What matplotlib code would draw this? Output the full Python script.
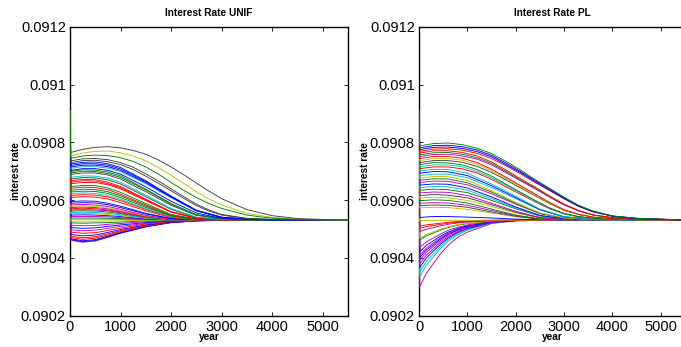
"""
plot.py
-------
Interest rate paths towards the steady state, UNIF vs PL (MATLAB-style figure).
"""
import matplotlib
matplotlib.use("Agg")
import matplotlib.pyplot as plt
from matplotlib.ticker import MultipleLocator, FuncFormatter

# every path starts at the same rate in year 0, then settles to the steady rate
START_RATE = 0.09091
STEADY_RATE = 0.090531

# --- UNIF panel: deviations from the steady rate, in units of 1e-6 ---
unif_top_years = [15, 250, 500, 750, 1000, 1250, 1500, 1750, 2000, 2250, 2500, 2750,
                  3000, 3500, 4000, 4500, 5000, 5500]
unif_top = [
    [214, 222, 225, 223, 216, 203, 184, 159, 130, 103, 78, 57, 40, 17, 6, 2, 1, 0],
    [234, 245, 252, 254, 250, 241, 228, 208, 184, 157, 128, 100, 74, 36, 15, 5, 2, 0],
    [222, 232, 238, 239, 233, 222, 205, 182, 155, 127, 98, 73, 52, 23, 9, 3, 1, 0],
    [205, 212, 213, 209, 199, 183, 160, 135, 108, 81, 55, 35, 19, 6, 2, 1, 0, 0],
    [199, 206, 207, 202, 192, 175, 152, 127, 101, 75, 50, 31, 17, 5, 2, 0, 0, 0],
]

unif_years = [15, 250, 500, 750, 1000, 1500, 2000, 2500, 3000, 3500, 4000, 4500, 5000, 5500]
unif_blue = [
    [194, 200, 201, 195, 182, 136, 83, 34, 10, 3, 1, 0, 0, 0],
    [189, 195, 195, 190, 177, 133, 81, 33, 9, 3, 1, 0, 0, 0],
    [184, 190, 190, 185, 172, 129, 79, 32, 9, 3, 1, 0, 0, 0],
    [179, 185, 185, 180, 168, 126, 77, 31, 9, 3, 1, 0, 0, 0],
    [172, 178, 178, 172, 159, 115, 65, 24, 6, 2, 0, 0, 0, 0],
]
unif_middle = [
    [168, 174, 173, 166, 153, 107, 57, 18, 5, 1, 0, 0, 0, 0],
    [163, 169, 168, 161, 148, 104, 55, 18, 5, 1, 0, 0, 0, 0],
    [158, 163, 163, 156, 142, 98, 51, 16, 4, 1, 0, 0, 0, 0],
    [148, 153, 152, 145, 131, 86, 40, 10, 2, 0, 0, 0, 0, 0],
    [142, 147, 146, 139, 125, 81, 37, 9, 2, 0, 0, 0, 0, 0],
    [136, 141, 140, 131, 116, 72, 29, 7, 1, 0, 0, 0, 0, 0],
    [131, 136, 135, 126, 112, 70, 28, 7, 1, 0, 0, 0, 0, 0],
    [126, 130, 130, 122, 108, 67, 27, 6, 1, 0, 0, 0, 0, 0],
    [116, 120, 119, 111, 96, 57, 19, 4, 1, 0, 0, 0, 0, 0],
    [110, 114, 112, 105, 89, 52, 17, 3, 1, 0, 0, 0, 0, 0],
    [103, 107, 105, 98, 84, 48, 15, 3, 1, 0, 0, 0, 0, 0],
    [97, 100, 99, 92, 78, 44, 14, 3, 0, 0, 0, 0, 0, 0],
    [91, 94, 92, 85, 72, 39, 11, 2, 0, 0, 0, 0, 0, 0],
    [85, 88, 86, 80, 67, 37, 10, 2, 0, 0, 0, 0, 0, 0],
    [78, 81, 79, 73, 60, 32, 8, 1, 0, 0, 0, 0, 0, 0],
    [64, 66, 65, 58, 48, 23, 5, 1, 0, 0, 0, 0, 0, 0],
    [58, 60, 59, 53, 43, 21, 5, 1, 0, 0, 0, 0, 0, 0],
]
unif_near = [
    [52, 54, 52, 47, 37, 16, 3, 1, 0, 0, 0, 0, 0, 0],
    [47, 49, 47, 42, 33, 14, 3, 0, 0, 0, 0, 0, 0, 0],
    [43, 45, 43, 39, 31, 13, 2, 0, 0, 0, 0, 0, 0, 0],
    [39, 41, 39, 35, 28, 12, 2, 0, 0, 0, 0, 0, 0, 0],
    [35, 36, 35, 32, 25, 11, 2, 0, 0, 0, 0, 0, 0, 0],
    [31, 32, 31, 28, 22, 9, 2, 0, 0, 0, 0, 0, 0, 0],
    [26, 27, 26, 23, 18, 7, 1, 0, 0, 0, 0, 0, 0, 0],
    [22, 23, 22, 19, 15, 6, 1, 0, 0, 0, 0, 0, 0, 0],
    [17, 18, 17, 15, 12, 4, 1, 0, 0, 0, 0, 0, 0, 0],
    [12, 12, 12, 11, 8, 3, 0, 0, 0, 0, 0, 0, 0, 0],
    [7, 7, 7, 6, 5, 2, 0, 0, 0, 0, 0, 0, 0, 0],
    [3, 3, 3, 3, 2, 1, 0, 0, 0, 0, 0, 0, 0, 0],
]
unif_lower = [
    [-4, -4, -4, -3, -3, -1, -1, 0, 0, 0, 0, 0, 0, 0],
    [-10, -11, -10, -9, -7, -3, -1, 0, 0, 0, 0, 0, 0, 0],
    [-18, -20, -19, -15, -12, -6, -2, -1, 0, 0, 0, 0, 0, 0],
    [-26, -29, -27, -22, -17, -9, -3, -1, 0, 0, 0, 0, 0, 0],
    [-34, -37, -35, -29, -22, -12, -4, -1, 0, 0, 0, 0, 0, 0],
    [-42, -46, -44, -36, -28, -14, -5, -2, 0, 0, 0, 0, 0, 0],
    [-50, -55, -52, -43, -33, -17, -7, -2, -1, 0, 0, 0, 0, 0],
    [-56, -62, -58, -48, -37, -19, -7, -2, -1, 0, 0, 0, 0, 0],
    [-61, -67, -63, -52, -40, -21, -8, -2, -1, 0, 0, 0, 0, 0],
    [-65, -72, -68, -56, -43, -22, -8, -3, -1, 0, 0, 0, 0, 0],
    [-68, -75, -71, -58, -45, -23, -9, -3, -1, 0, 0, 0, 0, 0],
    [-70, -77, -73, -60, -46, -24, -9, -3, -1, 0, 0, 0, 0, 0],
]

# --- PL panel ---
pl_top_years = [15, 300, 600, 900, 1200, 1500, 1800, 2100, 2400, 2700, 3000, 3300,
                3600, 4000, 4500, 5500]
pl_top = [
    [257, 265, 267, 261, 249, 230, 203, 173, 140, 110, 79, 51, 31, 14, 6, 0],
    [250, 258, 259, 254, 243, 224, 197, 168, 137, 107, 77, 49, 30, 14, 6, 0],
    [244, 252, 253, 248, 237, 219, 192, 164, 133, 104, 75, 48, 29, 13, 5, 0],
    [238, 246, 247, 242, 231, 213, 188, 160, 130, 102, 73, 47, 28, 13, 5, 0],
    [232, 240, 240, 234, 222, 201, 173, 143, 114, 83, 55, 33, 18, 8, 3, 0],
    [226, 233, 234, 228, 216, 196, 168, 139, 111, 81, 54, 32, 17, 8, 3, 0],
    [220, 227, 228, 222, 211, 191, 164, 136, 108, 79, 52, 31, 17, 8, 3, 0],
    [213, 220, 220, 214, 199, 176, 148, 119, 90, 61, 36, 20, 10, 5, 1, 0],
    [206, 213, 213, 207, 193, 171, 144, 115, 87, 59, 34, 19, 10, 5, 1, 0],
    [199, 206, 206, 200, 186, 165, 139, 111, 84, 57, 33, 19, 10, 4, 1, 0],
    [192, 199, 198, 191, 175, 152, 124, 96, 68, 42, 23, 12, 6, 2, 1, 0],
    [185, 191, 191, 184, 169, 146, 120, 93, 65, 41, 22, 11, 6, 2, 1, 0],
    [178, 184, 184, 177, 163, 141, 115, 89, 63, 39, 21, 11, 6, 2, 1, 0],
]

pl_years = [15, 300, 600, 1000, 1500, 2000, 2500, 3000, 3500, 4000, 4500, 5500]
pl_middle = [
    [170, 176, 175, 162, 125, 82, 38, 12, 4, 1, 0, 0],
    [162, 168, 167, 154, 119, 78, 36, 11, 4, 1, 0, 0],
    [154, 159, 159, 147, 113, 74, 35, 11, 3, 1, 0, 0],
    [146, 151, 150, 137, 102, 61, 25, 7, 2, 0, 0, 0],
    [138, 143, 142, 129, 97, 58, 23, 7, 2, 0, 0, 0],
    [130, 135, 134, 122, 91, 55, 22, 7, 2, 0, 0, 0],
    [121, 125, 124, 111, 80, 45, 16, 4, 1, 0, 0, 0],
    [112, 116, 115, 103, 74, 42, 15, 4, 1, 0, 0, 0],
    [103, 107, 105, 95, 68, 39, 14, 4, 1, 0, 0, 0],
    [94, 97, 96, 85, 58, 30, 9, 2, 0, 0, 0, 0],
    [85, 88, 86, 77, 53, 27, 8, 2, 0, 0, 0, 0],
    [76, 79, 77, 68, 47, 24, 7, 2, 0, 0, 0, 0],
    [67, 70, 68, 59, 38, 17, 4, 1, 0, 0, 0, 0],
    [58, 60, 59, 51, 33, 15, 4, 1, 0, 0, 0, 0],
    [50, 52, 51, 44, 28, 13, 3, 1, 0, 0, 0, 0],
    [42, 44, 43, 37, 24, 11, 3, 1, 0, 0, 0, 0],
    [9, 12, 12, 10, 7, 3, 1, 0, 0, 0, 0, 0],
    [-2, -2, -1, -1, 0, 0, 0, 0, 0, 0, 0, 0],
]

pl_low_years = [15, 150, 300, 450, 600, 800, 1000, 1500, 2000, 2500, 3000, 5500]
pl_lower = [
    [-21, -17, -14, -11, -8, -5, -4, -1, 0, 0, 0, 0],
    [-29, -23, -19, -15, -11, -8, -5, -2, 0, 0, 0, 0],
    [-40, -32, -26, -20, -15, -10, -7, -2, -1, 0, 0, 0],
    [-63, -50, -41, -32, -24, -16, -11, -3, -1, 0, 0, 0],
    [-69, -55, -45, -35, -26, -18, -12, -4, -1, 0, 0, 0],
    [-95, -76, -62, -48, -36, -25, -17, -5, -1, 0, 0, 0],
    [-110, -88, -72, -55, -42, -29, -20, -6, -1, 0, 0, 0],
    [-122, -98, -79, -61, -46, -32, -22, -6, -2, -1, 0, 0],
    [-130, -104, -85, -65, -49, -34, -23, -7, -2, -1, 0, 0],
    [-140, -112, -91, -70, -53, -36, -25, -7, -2, -1, 0, 0],
    [-152, -122, -99, -76, -58, -40, -27, -8, -2, -1, 0, 0],
    [-165, -132, -107, -83, -63, -43, -30, -9, -2, -1, 0, 0],
    [-180, -144, -117, -90, -68, -47, -32, -10, -2, -1, 0, 0],
    [-196, -157, -127, -98, -74, -51, -35, -10, -3, -1, 0, 0],
    [-231, -185, -150, -116, -88, -60, -42, -12, -3, -1, 0, 0],
]

# MATLAB's old default line colours, one letter per curve
MATLAB = {
    "b": (0, 0, 1), "g": (0, 0.5, 0), "r": (1, 0, 0), "c": (0, 0.75, 0.75),
    "m": (0.75, 0, 0.75), "y": (0.75, 0.75, 0), "k": (0.25, 0.25, 0.25),
}
unif_bands = [
    (unif_top_years, unif_top, "gkykk"),
    (unif_years, unif_blue, "bbbcb"),
    (unif_years, unif_middle, "ggkckrrrgrggcrrbb"),
    (unif_years, unif_near, "mymrmgcybmgc"),
    (unif_years, unif_lower, "ygmbmrbrrbbm"),
]
pl_bands = [
    (pl_top_years, pl_top, "gbbrrgmrykgcr"),
    (pl_years, pl_middle, "cbcygmbcgmkygmkyby"),
    (pl_low_years, pl_lower, "rrmygmbmbmmbccm"),
]

plt.rcParams["font.family"] = ["Liberation Sans", "DejaVu Sans"]


def draw_panel(ax, bands, title):
    curves = []
    for years, rows, codes in bands:
        curves += [(years, row, code) for row, code in zip(rows, codes)]
    # draw bottom-up so the first listed curve ends on top (it colours the year-0 jump)
    for years, devs, code in reversed(curves):
        rates = [START_RATE] + [STEADY_RATE + d * 1e-6 for d in devs]
        ax.plot([0] + years, rates, color=MATLAB[code], lw=0.65, zorder=2.6)

    ax.set_xlim(0, 5500)
    ax.set_ylim(0.0902, 0.0912)
    ax.xaxis.set_major_locator(MultipleLocator(1000))
    ax.yaxis.set_major_locator(MultipleLocator(0.0002))
    ax.yaxis.set_major_formatter(FuncFormatter(lambda v, p: "%g" % round(v, 6)))
    ax.tick_params(direction="in", length=3, width=0.6, labelsize=10.5,
                   top=True, right=True, pad=3)
    for s in ax.spines.values():
        s.set_linewidth(1.0)

    ax.set_title(title, fontsize=7.3, fontweight="bold", pad=8)
    ax.set_xlabel("year", fontsize=7.3, fontweight="bold", labelpad=-1)
    ax.set_ylabel("interest rate", fontsize=7.3, fontweight="bold", labelpad=0)


fig = plt.figure(figsize=(6.81, 3.47), dpi=100)
# the right panel runs slightly past the edge of the picture, as in the original crop
ax1 = fig.add_axes([70 / 681, 31.5 / 347, 278 / 681, 288.5 / 347])
ax2 = fig.add_axes([419 / 681, 31.5 / 347, 266 / 681, 288.5 / 347])

draw_panel(ax1, unif_bands, "Interest Rate UNIF")
draw_panel(ax2, pl_bands, "Interest Rate PL")

fig.savefig("out.png", dpi=100)
